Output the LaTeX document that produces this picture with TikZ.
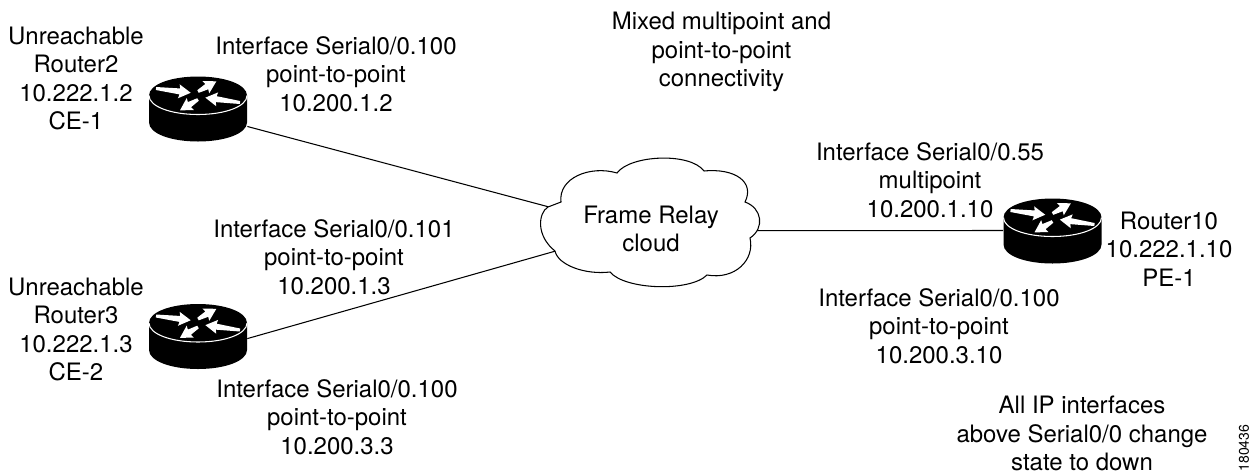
\documentclass[tikz,border=0pt]{standalone}
\usepackage{fontspec}
\setmainfont{TeX Gyre Heros}
\usetikzlibrary{backgrounds}
\tikzset{
	lbl/.style={align=center,inner sep=0pt,font=\fontsize{13.65}{16.3}\selectfont},
	routerbox/.style={minimum width=98*0.2mm,minimum height=65*0.2mm,inner sep=0pt},
	routerpic/.pic={
		\fill[black] (-49,-13) -- (-49,14) .. controls (-49,25) and (-27,33) .. (0,33) .. controls (27,33) and (49,25) .. (49,14) -- (49,-13) .. controls (49,-24) and (27,-32) .. (0,-32) .. controls (-27,-32) and (-49,-24) .. cycle;
		\draw[white,line width=0.6pt] (-49,-13) .. controls (-49,-2) and (-27,6) .. (0,6) .. controls (27,6) and (49,-2) .. (49,-13);
		\foreach \a/\b/\t/\l in {-42/-20/-7/35, 0/-17/29/21, 42/-6/172/35, 0/-9/211/21}{
			\fill[white,shift={(\a,\b)},rotate=\t] (0,-1.5)--({\l-11},-3)--({\l-12},-7)--(\l,0)--({\l-12},7)--({\l-11},3)--(0,1.5)--cycle;
		}
	}
}
\begin{document}
\begin{tikzpicture}[x=0.02cm,y=-0.02cm]
	\useasboundingbox (0,0) rectangle (1260,474);
	\draw[fill=white,line width=0.6pt] (548,207) .. controls (538,213) and (536,236) .. (555,251)
		.. controls (558,265) and (585,275) .. (610,272)
		.. controls (625,290) and (690,292) .. (707,275)
		.. controls (735,280) and (755,260) .. (750,238)
		.. controls (765,228) and (762,208) .. (745,202)
		.. controls (755,182) and (735,168) .. (704,171)
		.. controls (690,152) and (630,155) .. (617,173)
		.. controls (590,165) and (558,178) .. (561,202)
		-- cycle;
	\node[lbl,minimum width=3.8cm,minimum height=2cm] (cloud) at (651,229) {Frame Relay\\cloud};
	\node[routerbox] (router2) at (198,108.5) {};
	\node[routerbox] (router3) at (198,336) {};
	\node[routerbox] (router10) at (1052.5,230.5) {};
	\begin{scope}[on background layer]
		\draw[line width=0.6pt] (router2.-20)--(cloud.168) (router3.-3)--(cloud.193) (router10.west)--(cloud.-1);
	\end{scope}
	\foreach \x in {router2,router3,router10}{
		\pic at (\x) {routerpic};
	}
	\node[lbl] (ce1) at (76,78.5) {Unreachable\\Router2\\10.222.1.2\\CE-1};
	\node[lbl] (ce2) at (76,329.5) {Unreachable\\Router3\\10.222.1.3\\CE-2};
	\node[lbl] (pe1) at (1169,249) {Router10\\10.222.1.10\\PE-1};
	\node[lbl] (s1) at (336,74) {Interface Serial0/0.100\\point-to-point\\10.200.1.2};
	\node[lbl] (s2) at (334,257) {Interface Serial0/0.101\\point-to-point\\10.200.1.3};
	\node[lbl] (s3) at (337,417) {Interface Serial0/0.100\\point-to-point\\10.200.3.3};
	\node[lbl] (s4) at (930,180) {Interface Serial0/0.55\\multipoint\\10.200.1.10};
	\node[lbl] (s5) at (939,326) {Interface Serial0/0.100\\point-to-point\\10.200.3.10};
	\node[lbl] (mixed) at (721.5,52) {Mixed multipoint and\\point-to-point\\connectivity};
	\node[lbl] (allip) at (1082,433.5) {All IP interfaces\\above Serial0/0 change\\state to down};
	\node[rotate=90,inner sep=0pt,font=\fontsize{8}{8}\selectfont] (figid) at (1244,448) {180436};
\end{tikzpicture}
\end{document}
